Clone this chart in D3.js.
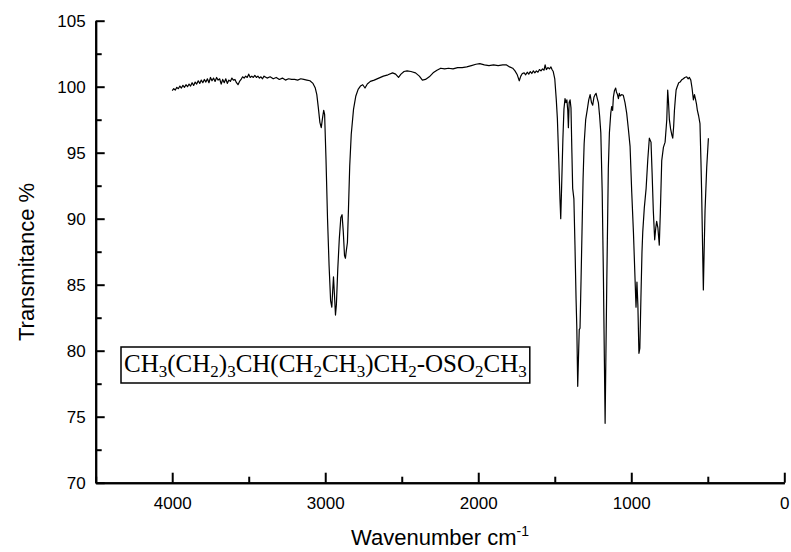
<!DOCTYPE html>
<html>
<head>
<meta charset="utf-8">
<script src="https://cdn.jsdelivr.net/npm/d3@7"></script>
<style>
  body { margin: 0; background: #fff; }
  .axis text { font-family: Arial, "Liberation Sans", sans-serif; font-size: 17px; fill: #000; }
  .axis path, .axis line { stroke: #000; stroke-width: 2; }
</style>
</head>
<body>
<script>
const width = 791;
const height = 552;

// wavenumber (cm-1) and transmittance (%)
const wavenumber = [
  4000, 3990, 3980, 3970, 3960, 3950, 3940, 3930, 3920, 3910, 3900, 3890, 3880, 3870, 3860, 3850,
  3840, 3830, 3820, 3810, 3800, 3790, 3780, 3770, 3760, 3750, 3740, 3730, 3720, 3710, 3700, 3690,
  3680, 3670, 3660, 3650, 3640, 3630, 3620, 3610, 3600, 3590, 3580, 3570, 3560, 3550, 3540, 3530,
  3520, 3510, 3500, 3490, 3480, 3470, 3460, 3450, 3440, 3430, 3420, 3410, 3400, 3380, 3360, 3340,
  3320, 3300, 3280, 3260, 3240, 3220, 3200, 3180, 3160, 3140, 3120, 3100, 3080, 3065, 3055, 3045,
  3035, 3026, 3018, 3010, 3004, 2995, 2985, 2975, 2965, 2957, 2951, 2946, 2940, 2933, 2927, 2918,
  2908, 2898, 2890, 2882, 2874, 2868, 2862, 2855, 2848, 2840, 2830, 2815, 2800, 2785, 2770, 2755,
  2740, 2725, 2705, 2680, 2650, 2620, 2590, 2560, 2540, 2521, 2505, 2485, 2465, 2440, 2410, 2385,
  2365, 2345, 2320, 2295, 2270, 2245, 2220, 2195, 2165, 2135, 2105, 2075, 2045, 2015, 1990, 1960,
  1930, 1900, 1870, 1840, 1815, 1795, 1775, 1760, 1745, 1732, 1722, 1712, 1700, 1690, 1680, 1670,
  1660, 1650, 1640, 1630, 1620, 1610, 1600, 1590, 1580, 1570, 1563, 1555, 1545, 1535, 1525, 1518,
  1510, 1500, 1490, 1483, 1474, 1466, 1461, 1455, 1447, 1440, 1433, 1427, 1421, 1415, 1411, 1406,
  1400, 1394, 1388, 1383, 1375, 1368, 1361, 1356, 1350, 1345, 1340, 1335, 1328, 1322, 1315, 1308,
  1298, 1287, 1278, 1269, 1260, 1252, 1244, 1236, 1230, 1222, 1215, 1207, 1199, 1190, 1182, 1176,
  1171, 1166, 1160, 1155, 1150, 1143, 1134, 1128, 1122, 1117, 1110, 1102, 1097, 1090, 1084, 1078,
  1073, 1063, 1052, 1041, 1030, 1019, 1008, 997, 986, 975, 969, 963, 957, 950, 944, 937,
  930, 925, 915, 903, 892, 882, 871, 864, 856, 847, 840, 834, 826, 817, 810, 801,
  790, 779, 768, 762, 757, 751, 743, 736, 729, 723, 718, 712, 707, 700, 690, 681,
  672, 660, 650, 638, 628, 620, 611, 603, 594, 587, 581, 574, 568, 560, 551, 545,
  540, 535, 529, 524, 518, 507, 496
];
const transmittance = [
  99.7, 99.85, 99.75, 99.95, 99.85, 100.05, 99.9, 100.1, 99.95, 100.15, 100.0, 100.2, 100.05, 100.3, 100.1, 100.35,
  100.2, 100.45, 100.25, 100.5, 100.3, 100.55, 100.35, 100.6, 100.3, 100.7, 100.45, 100.65, 100.4, 100.7, 100.5, 100.6,
  100.2, 100.55, 100.3, 100.6, 100.25, 100.5, 100.4, 100.65, 100.5, 100.55, 100.3, 100.15, 100.4, 100.55, 100.75, 100.65,
  100.8, 100.7, 100.95, 100.7, 100.8, 100.7, 100.85, 100.7, 100.8, 100.65, 100.75, 100.6, 100.8, 100.65, 100.75, 100.6,
  100.7, 100.55, 100.65, 100.5, 100.6, 100.55, 100.55, 100.5, 100.6, 100.55, 100.5, 100.45, 100.25, 99.9, 99.4, 98.4,
  97.3, 96.9, 97.6, 98.2, 97.9, 94.5, 90.0, 86.5, 83.8, 83.3, 84.6, 85.6, 84.3, 82.7, 83.5, 86.2,
  88.5, 90.1, 90.3, 89.0, 87.2, 87.0, 87.6, 88.2, 90.8, 94.0, 96.4, 98.3, 99.3, 99.8, 100.05, 100.15,
  99.9, 100.2, 100.4, 100.5, 100.65, 100.8, 100.9, 101.05, 100.95, 100.7, 100.95, 101.15, 101.2, 101.15, 101.05, 100.8,
  100.5, 100.55, 100.75, 101.05, 101.25, 101.4, 101.35, 101.4, 101.35, 101.45, 101.45, 101.5, 101.6, 101.7, 101.75, 101.65,
  101.6, 101.65, 101.6, 101.65, 101.65, 101.5, 101.4, 101.2, 100.9, 100.45, 100.8, 101.0, 101.05, 100.9, 101.1, 100.95,
  101.15, 101.0, 101.2, 101.05, 101.2, 101.1, 101.3, 101.2, 101.35, 101.25, 101.65, 101.3, 101.45, 101.35, 101.5, 101.3,
  101.15, 100.6, 99.0, 97.6, 94.5, 91.5, 90.0, 92.5, 96.0, 98.3, 99.1, 98.8, 99.0, 98.2, 96.9, 98.8,
  99.0, 98.4, 95.0, 92.3, 91.5, 88.0, 84.0, 81.8, 77.3, 79.5, 81.6, 81.7, 85.5, 89.0, 93.0, 95.7,
  97.5, 98.3, 99.0, 99.4, 98.8, 98.6, 99.2, 99.4, 99.5, 99.1, 98.8, 97.8, 96.5, 92.0, 85.5, 79.5,
  74.5, 79.5, 85.2, 89.5, 93.8, 96.5, 98.0, 98.5, 98.2, 99.2, 99.7, 99.9, 99.6, 99.4, 99.1, 99.5,
  99.3, 99.4, 99.35, 98.8, 98.0, 96.8, 95.5, 92.0, 89.0, 85.3, 83.3, 85.2, 83.5, 79.8, 80.2, 84.0,
  87.5, 89.0, 90.8, 92.3, 94.5, 96.1, 95.8, 93.5, 90.6, 88.4, 89.3, 89.8, 89.3, 88.0, 90.5, 94.4,
  95.4, 95.8, 97.5, 99.75, 98.9, 97.5, 96.8, 96.4, 96.1, 97.0, 98.2, 99.1, 99.75, 100.0, 100.3, 100.35,
  100.5, 100.6, 100.7, 100.75, 100.6, 100.7, 100.5, 99.9, 99.0, 99.4, 99.1, 98.7, 98.2, 97.8, 97.2, 94.5,
  91.9, 88.5, 84.6, 87.5, 90.6, 93.9, 96.1
];

const xMajor = [4000, 3000, 2000, 1000, 0];
const xMinor = [4500, 3500, 2500, 1500, 500];
const yMajor = [70, 75, 80, 85, 90, 95, 100, 105];
const yMinor = [72.5, 77.5, 82.5, 87.5, 92.5, 97.5, 102.5];

const x = d3.scaleLinear().domain([4500, 0]).range([95.7, 784.3]);
const y = d3.scaleLinear().domain([70, 105]).range([482.7, 20.7]);

const svg = d3.select("body")
  .append("svg")
  .attr("width", width)
  .attr("height", height);

// minor ticks first, majors on top
svg.append("g")
  .attr("class", "axis")
  .attr("transform", "translate(0," + y(70) + ")")
  .call(d3.axisBottom(x).tickValues(xMinor).tickSize(-6).tickSizeOuter(0).tickFormat(""));

svg.append("g")
  .attr("class", "axis")
  .attr("transform", "translate(0," + y(70) + ")")
  .call(d3.axisBottom(x).tickValues(xMajor).tickSize(-10).tickSizeOuter(0).tickPadding(14).tickFormat(d3.format("d")));

svg.append("g")
  .attr("class", "axis")
  .attr("transform", "translate(" + x(4500) + ",0)")
  .call(d3.axisLeft(y).tickValues(yMinor).tickSize(-6).tickSizeOuter(0).tickFormat(""));

svg.append("g")
  .attr("class", "axis")
  .attr("transform", "translate(" + x(4500) + ",0)")
  .call(d3.axisLeft(y).tickValues(yMajor).tickSize(-9).tickSizeOuter(0).tickPadding(10).tickFormat(d3.format("d")));

// spectrum
const line = d3.line()
  .x((d, i) => x(wavenumber[i]))
  .y((d) => y(d));

svg.append("path")
  .datum(transmittance)
  .attr("fill", "none")
  .attr("stroke", "#000")
  .attr("stroke-width", 1.2)
  .attr("stroke-linejoin", "round")
  .attr("d", line);

// axis titles
svg.append("text")
  .attr("transform", "translate(34,262) rotate(-90)")
  .attr("text-anchor", "middle")
  .style("font-family", "Arial, 'Liberation Sans', sans-serif")
  .style("font-size", "22px")
  .text("Transmitance %");

const xt = svg.append("text")
  .attr("x", (x(4500) + x(0)) / 2)
  .attr("y", 545)
  .attr("text-anchor", "middle")
  .style("font-family", "Arial, 'Liberation Sans', sans-serif")
  .style("font-size", "22px");
xt.append("tspan").text("Wavenumber cm");
xt.append("tspan").attr("dy", -9).style("font-size", "14px").text("-1");

// compound label in a box
const formula = [
  ["CH", 0], ["3", 1], ["(CH", 0], ["2", 1], [")", 0], ["3", 1], ["CH(CH", 0], ["2", 1],
  ["CH", 0], ["3", 1], [")CH", 0], ["2", 1], ["-OSO", 0], ["2", 1], ["CH", 0], ["3", 1]
];

const box = svg.append("g");

const label = box.append("text")
  .attr("x", 124)
  .attr("y", 372)
  .style("font-family", "'Times New Roman', 'Liberation Serif', serif")
  .style("font-size", "25px");

let sub = 0;
formula.forEach(([t, s]) => {
  const dy = s ? 5 : (sub ? -5 : 0);
  sub = s;
  label.append("tspan")
    .attr("dy", dy)
    .style("font-size", s ? "17px" : "25px")
    .text(t);
});

const bb = label.node().getBBox();
box.insert("rect", "text")
  .attr("x", bb.x - 3)
  .attr("y", 347)
  .attr("width", bb.width + 6)
  .attr("height", 36)
  .attr("fill", "#fff")
  .attr("stroke", "#000")
  .attr("stroke-width", 1.5);
</script>
</body>
</html>
